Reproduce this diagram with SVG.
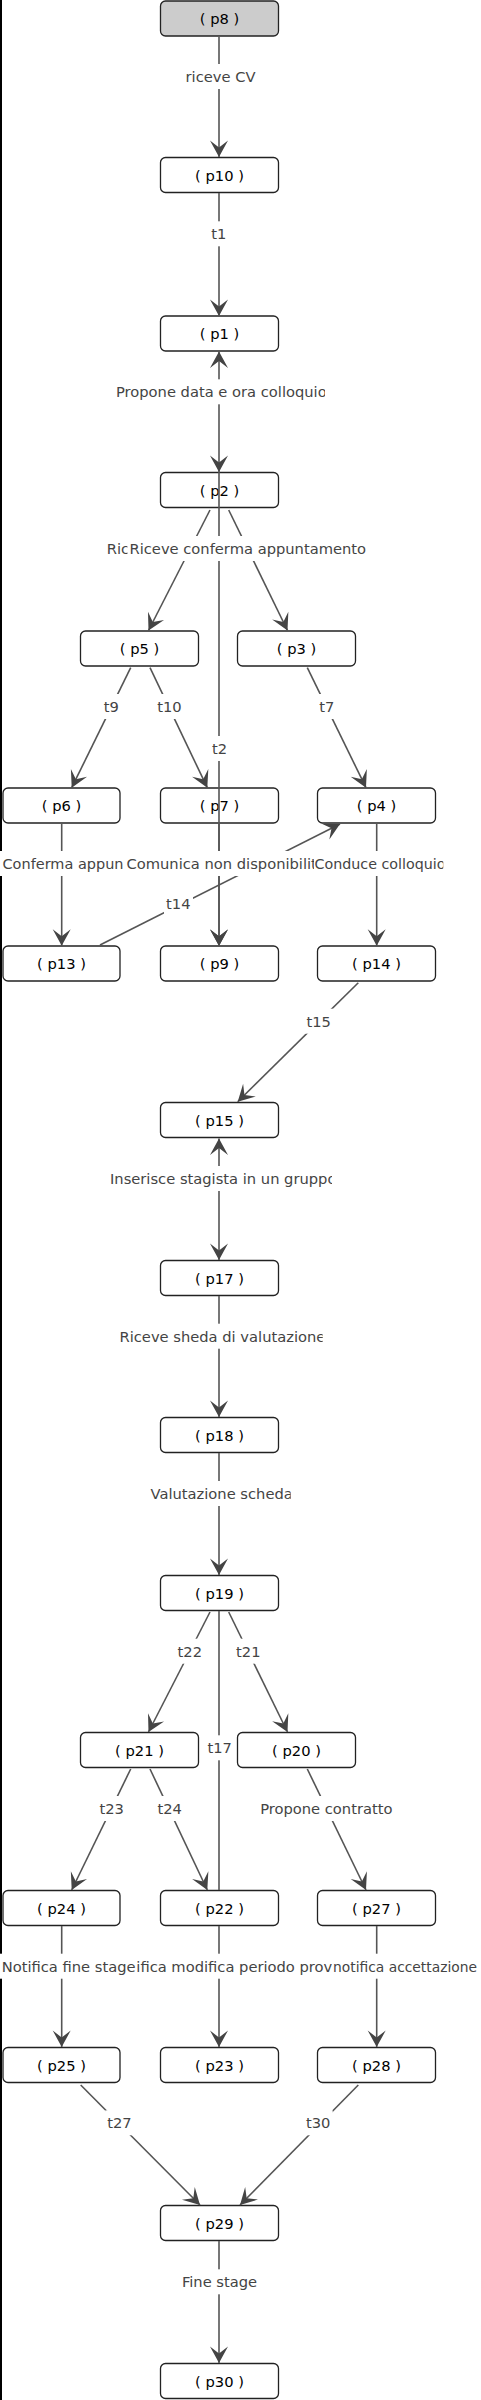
<svg xmlns="http://www.w3.org/2000/svg" width="481" height="2400" viewBox="0 0 481 2400">
<style>
.n rect{fill:#fff;stroke:#222;stroke-width:1.3}
.n text{font-family:"DejaVu Sans",sans-serif;font-size:14.7px;fill:#000;text-anchor:middle}
.e path{fill:none;stroke:#555;stroke-width:1.6}
.l rect{fill:#fff}
.l text{font-family:"DejaVu Sans",sans-serif;font-size:14.7px;fill:#444}
.m{text-anchor:middle}
</style>
<defs>
<marker id="ah" markerUnits="userSpaceOnUse" markerWidth="20" markerHeight="20" viewBox="-18 -10 19 20" refX="0" refY="0" orient="auto-start-reverse">
<path d="M0,0 L-16.5,-9 L-9.5,0 L-16.5,9 Z" fill="#444"/>
</marker>
<clipPath id="c3"><rect x="114" y="379" width="211" height="26"/></clipPath>
<clipPath id="c5"><rect x="127" y="536" width="240.7" height="26"/></clipPath>
<clipPath id="c11"><rect x="125" y="851" width="189.5" height="26"/></clipPath>
<clipPath id="c12"><rect x="314" y="851" width="129.3" height="26"/></clipPath>
<clipPath id="c15"><rect x="108" y="1166" width="224" height="26"/></clipPath>
<clipPath id="c16"><rect x="118" y="1323.7" width="204.7" height="26"/></clipPath>
<clipPath id="c17"><rect x="149" y="1481" width="141.7" height="26"/></clipPath>
<clipPath id="c24"><rect x="136" y="1953.7" width="197" height="26"/></clipPath>
</defs>
<rect x="0" y="0" width="2" height="2400" fill="#000"/>
<g id="nodes">
<g id="p8" class="n"><rect x="160.5" y="1" width="118" height="35" rx="5" style="fill:#ccc"/><text x="219.5" y="24">( p8 )</text></g>
<g id="p10" class="n"><rect x="160.5" y="157.5" width="118" height="35" rx="5"/><text x="219.5" y="180.5">( p10 )</text></g>
<g id="p1" class="n"><rect x="160.5" y="316" width="118" height="35" rx="5"/><text x="219.5" y="339">( p1 )</text></g>
<g id="p2" class="n"><rect x="160.5" y="472.5" width="118" height="35" rx="5"/><text x="219.5" y="495.5">( p2 )</text></g>
<g id="p5" class="n"><rect x="80.5" y="631" width="118" height="35" rx="5"/><text x="139.5" y="654">( p5 )</text></g>
<g id="p3" class="n"><rect x="237.5" y="631" width="118" height="35" rx="5"/><text x="296.5" y="654">( p3 )</text></g>
<g id="p6" class="n"><rect x="3" y="788" width="117" height="35" rx="5"/><text x="61.5" y="811">( p6 )</text></g>
<g id="p7" class="n"><rect x="160.5" y="788" width="118" height="35" rx="5"/><text x="219.5" y="811">( p7 )</text></g>
<g id="p4" class="n"><rect x="317.5" y="788" width="118" height="35" rx="5"/><text x="376.5" y="811">( p4 )</text></g>
<g id="p13" class="n"><rect x="3" y="946" width="117" height="35" rx="5"/><text x="61.5" y="969">( p13 )</text></g>
<g id="p9" class="n"><rect x="160.5" y="946" width="118" height="35" rx="5"/><text x="219.5" y="969">( p9 )</text></g>
<g id="p14" class="n"><rect x="317.5" y="946" width="118" height="35" rx="5"/><text x="376.5" y="969">( p14 )</text></g>
<g id="p15" class="n"><rect x="160.5" y="1102.5" width="118" height="35" rx="5"/><text x="219.5" y="1125.5">( p15 )</text></g>
<g id="p17" class="n"><rect x="160.5" y="1260.5" width="118" height="35" rx="5"/><text x="219.5" y="1283.5">( p17 )</text></g>
<g id="p18" class="n"><rect x="160.5" y="1417.5" width="118" height="35" rx="5"/><text x="219.5" y="1440.5">( p18 )</text></g>
<g id="p19" class="n"><rect x="160.5" y="1575.5" width="118" height="35" rx="5"/><text x="219.5" y="1598.5">( p19 )</text></g>
<g id="p21" class="n"><rect x="80.5" y="1732.5" width="118" height="35" rx="5"/><text x="139.5" y="1755.5">( p21 )</text></g>
<g id="p20" class="n"><rect x="237.5" y="1732.5" width="118" height="35" rx="5"/><text x="296.5" y="1755.5">( p20 )</text></g>
<g id="p24" class="n"><rect x="3" y="1890.5" width="117" height="35" rx="5"/><text x="61.5" y="1913.5">( p24 )</text></g>
<g id="p22" class="n"><rect x="160.5" y="1890.5" width="118" height="35" rx="5"/><text x="219.5" y="1913.5">( p22 )</text></g>
<g id="p27" class="n"><rect x="317.5" y="1890.5" width="118" height="35" rx="5"/><text x="376.5" y="1913.5">( p27 )</text></g>
<g id="p25" class="n"><rect x="3" y="2047.5" width="117" height="35" rx="5"/><text x="61.5" y="2070.5">( p25 )</text></g>
<g id="p23" class="n"><rect x="160.5" y="2047.5" width="118" height="35" rx="5"/><text x="219.5" y="2070.5">( p23 )</text></g>
<g id="p28" class="n"><rect x="317.5" y="2047.5" width="118" height="35" rx="5"/><text x="376.5" y="2070.5">( p28 )</text></g>
<g id="p29" class="n"><rect x="160.5" y="2205.5" width="118" height="35" rx="5"/><text x="219.5" y="2228.5">( p29 )</text></g>
<g id="p30" class="n"><rect x="160.5" y="2363.5" width="118" height="35" rx="5"/><text x="219.5" y="2386.5">( p30 )</text></g>
</g>
<g id="connectors">
<g class="e" marker-end="url(#ah)">
<path d="M219,37 V157"/>
<path d="M219,193 V316"/>
<path d="M219,351.5 V472" marker-start="url(#ah)"/>
<path d="M219,472 V946"/>
<path d="M210,510 L148.5,630.5"/>
<path d="M228.7,510 L287.5,630.5"/>
<path d="M130.7,667.7 L71.7,787.7"/>
<path d="M150,667.7 L207.3,787.7"/>
<path d="M307.3,667.7 L366,787.7"/>
<path d="M61.7,824 V945.7"/>
<path d="M219,824 V945.7"/>
<path d="M376.7,824 V945.7"/>
<path d="M100,945 L340,824"/>
<path d="M358.3,982.7 L237.7,1101.7"/>
<path d="M219,1138.5 V1260" marker-start="url(#ah)"/>
<path d="M219,1296 V1417"/>
<path d="M219,1453 V1575"/>
<path d="M210,1612 L148.5,1732"/>
<path d="M228.7,1612 L287.5,1732"/>
<path d="M219,1611 V1890" marker-end="none"/>
<path d="M130.7,1769 L71.7,1890"/>
<path d="M150,1769 L207.3,1890"/>
<path d="M307.3,1769 L366,1890"/>
<path d="M61.7,1926 V2047"/>
<path d="M219,1926 V2047"/>
<path d="M376.7,1926 V2047"/>
<path d="M80.7,2085 L200,2205"/>
<path d="M358.3,2085 L240,2205"/>
<path d="M219,2241 V2363"/>
</g>
<g class="l">
<rect x="183" y="64" width="75" height="25"/><text class="m" x="220.5" y="82">riceve CV</text>
<rect x="209" y="221.3" width="20" height="25"/><text class="m" x="218.8" y="239.3">t1</text>
<rect x="114" y="379.3" width="211" height="25"/><text x="116" y="397.3" clip-path="url(#c3)">Propone data e ora colloquio</text>
<rect x="105" y="536" width="100" height="25"/><text x="106.8" y="554">Ric</text>
<rect x="127.5" y="536" width="240.2" height="25"/><text x="129.5" y="554" clip-path="url(#c5)">Riceve conferma appuntamento</text>
<rect x="209" y="736" width="21" height="25"/><text class="m" x="219.5" y="754">t2</text>
<rect x="101" y="694" width="21" height="25"/><text class="m" x="111.2" y="712">t9</text>
<rect x="154.5" y="694" width="30" height="25"/><text class="m" x="169.5" y="712">t10</text>
<rect x="317" y="694" width="20" height="25"/><text class="m" x="326.7" y="712">t7</text>
<rect x="0" y="851" width="130" height="25"/><text x="2.5" y="869" textLength="121" lengthAdjust="spacingAndGlyphs">Conferma appun</text>
<rect x="125" y="851" width="190" height="25"/><text x="126.5" y="869" clip-path="url(#c11)">Comunica non disponibilit</text>
<rect x="314" y="851" width="129.3" height="25"/><text x="314.5" y="869" textLength="131" lengthAdjust="spacingAndGlyphs" clip-path="url(#c12)">Conduce colloquio</text>
<rect x="164" y="891.3" width="29" height="25"/><text class="m" x="178.3" y="909.3">t14</text>
<rect x="303.7" y="1008.7" width="30" height="25"/><text class="m" x="318.7" y="1026.7">t15</text>
<rect x="108" y="1166" width="224" height="25"/><text x="110" y="1184" clip-path="url(#c15)">Inserisce stagista in un gruppo</text>
<rect x="118" y="1323.7" width="204.7" height="25"/><text x="119.5" y="1341.7" clip-path="url(#c16)">Riceve sheda di valutazione</text>
<rect x="149" y="1481" width="141.7" height="25"/><text x="150.5" y="1499" clip-path="url(#c17)">Valutazione scheda</text>
<rect x="174.7" y="1638.7" width="30.3" height="25"/><text class="m" x="189.8" y="1656.7">t22</text>
<rect x="234.3" y="1638.7" width="28" height="25"/><text class="m" x="248.3" y="1656.7">t21</text>
<rect x="205.3" y="1735.3" width="28.7" height="25"/><text class="m" x="219.7" y="1753.3">t17</text>
<rect x="97" y="1796" width="29.3" height="25"/><text class="m" x="111.7" y="1814">t23</text>
<rect x="155" y="1796" width="29.3" height="25"/><text class="m" x="169.7" y="1814">t24</text>
<rect x="257" y="1796" width="138.7" height="25"/><text class="m" x="326.3" y="1814">Propone contratto</text>
<rect x="0" y="1953.7" width="136" height="25"/><text x="1.7" y="1971.7">Notifica fine stage</text>
<rect x="136" y="1953.7" width="197" height="25"/><text x="136.3" y="1971.7" clip-path="url(#c24)">ifica modifica periodo prov</text>
<rect x="333" y="1953.7" width="148" height="25"/><text x="333" y="1971.7" style="font-size:13.9px" textLength="144" lengthAdjust="spacingAndGlyphs">notifica accettazione</text>
<rect x="105.3" y="2110.3" width="28.4" height="25"/><text class="m" x="119.5" y="2128.3">t27</text>
<rect x="303.7" y="2110.3" width="29" height="25"/><text class="m" x="318.2" y="2128.3">t30</text>
<rect x="178" y="2269.3" width="83" height="25"/><text class="m" x="219.5" y="2287.3">Fine stage</text>
</g>
</g>
</svg>
